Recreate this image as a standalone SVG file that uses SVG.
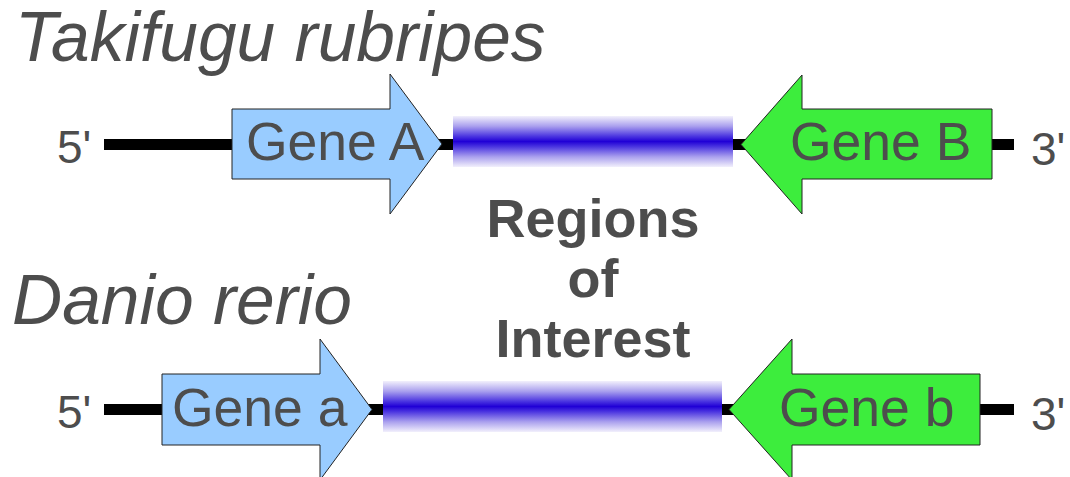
<svg xmlns="http://www.w3.org/2000/svg" width="1070" height="477" viewBox="0 0 1070 477">
<style>
text{font-family:"Liberation Sans",Arial,sans-serif;fill:#4d4d4d}
.title{font-size:69.5px;font-style:italic}
.gene{font-size:53.5px}
.end{font-size:46px}
.roi{font-size:54px;font-weight:bold;text-anchor:middle}
.chrom{stroke:#000;stroke-width:11;fill:none}
.fwd{fill:#99ccff;stroke:#222;stroke-width:1}
.rev{fill:#3ded3d;stroke:#222;stroke-width:1}
.bar{fill:url(#roiGrad)}
</style>
<defs>
<linearGradient id="roiGrad" x1="0" y1="0" x2="0" y2="1">
<stop offset="0" stop-color="#f2f0fc"/>
<stop offset="0.2" stop-color="#aaa0ee"/>
<stop offset="0.4" stop-color="#4a34e0"/>
<stop offset="0.5" stop-color="#2000d6"/>
<stop offset="0.6" stop-color="#4a34e0"/>
<stop offset="0.8" stop-color="#aaa0ee"/>
<stop offset="1" stop-color="#f2f0fc"/>
</linearGradient>
</defs>
<g id="title-takifugu"><text class="title" x="15" y="61">Takifugu rubripes</text></g>
<g id="title-danio"><text class="title" x="12" y="324">Danio rerio</text></g>
<g id="connectors">
<line class="chrom" x1="104" y1="144.5" x2="1014" y2="144.5"/>
<line class="chrom" x1="104" y1="409.5" x2="1014" y2="409.5"/>
</g>
<g id="label-5-top"><text class="end" x="57" y="163">5'</text></g>
<g id="label-3-top"><text class="end" x="1031" y="165">3'</text></g>
<g id="label-5-bottom"><text class="end" x="57" y="428">5'</text></g>
<g id="label-3-bottom"><text class="end" x="1031" y="430">3'</text></g>
<g id="roi-top"><rect class="bar" x="453" y="116" width="280" height="51"/></g>
<g id="roi-bottom"><rect class="bar" x="383" y="381" width="339" height="51"/></g>
<g id="gene-A">
<polygon class="fwd" points="232,109 390,109 390,74 442,144 390,214 390,179 232,179"/>
<text class="gene" x="246" y="160">Gene A</text>
</g>
<g id="gene-B">
<polygon class="rev" points="992,109 802,109 802,75 741,144.5 802,214 802,179 992,179"/>
<text class="gene" x="790" y="160">Gene B</text>
</g>
<g id="gene-a">
<polygon class="fwd" points="162,374 320,374 320,339 372,409.5 320,480 320,445 162,445"/>
<text class="gene" x="172" y="426">Gene a</text>
</g>
<g id="gene-b">
<polygon class="rev" points="980,374 792,374 792,339 729,409.5 792,480 792,445 980,445"/>
<text class="gene" x="779" y="426">Gene b</text>
</g>
<g id="roi-label">
<text class="roi" x="593" y="237">Regions</text>
<text class="roi" x="593" y="297">of</text>
<text class="roi" x="593" y="357">Interest</text>
</g>
</svg>
